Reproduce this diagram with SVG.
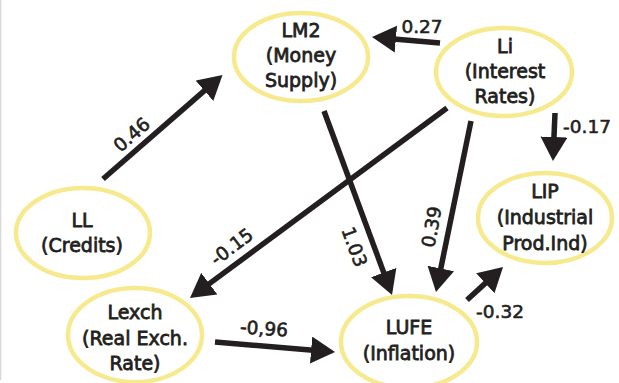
<svg xmlns="http://www.w3.org/2000/svg" width="619" height="383" viewBox="0 0 619 383">
<style>
.node ellipse{fill:#fff;stroke:#F7EA8E;stroke-width:4.5}
.node text{font-family:"DejaVu Sans",sans-serif;font-size:19px;fill:#231f20;stroke:#231f20;stroke-width:0.8;text-anchor:middle}
.conn line{stroke:#231f20;stroke-width:5.5}
.lbl{font-family:"DejaVu Sans",sans-serif;font-size:18.5px;fill:#231f20;stroke:#231f20;stroke-width:0.6;text-anchor:middle}
</style>
<defs>
<marker id="ah" markerUnits="userSpaceOnUse" markerWidth="26" markerHeight="28" refX="2" refY="13.5" orient="auto" viewBox="0 0 26 28">
<path d="M0,0 L24,13.5 L0,27 z" fill="#231f20"/>
</marker>
</defs>
<rect width="619" height="383" fill="#fff"/>
<line x1="0.5" y1="0" x2="0.5" y2="380" stroke="#d8d8d8" stroke-width="1.5"/>
<g id="LM2" class="node"><ellipse cx="301" cy="57" rx="67" ry="44"/><text x="301" y="37">LM2</text><text x="301" y="62">(Money</text><text x="301" y="87">Supply)</text></g>
<g id="Li" class="node"><ellipse cx="504" cy="72" rx="68" ry="44"/><text x="505" y="53">Li</text><text x="505" y="78">(Interest</text><text x="505" y="103">Rates)</text></g>
<g id="LL" class="node"><ellipse cx="83" cy="233" rx="67" ry="45"/><text x="82" y="227">LL</text><text x="82" y="252">(Credits)</text></g>
<g id="Lexch" class="node"><ellipse cx="135" cy="335" rx="67" ry="47"/><text x="135" y="319">Lexch</text><text x="135" y="345">(Real Exch.</text><text x="135" y="370">Rate)</text></g>
<g id="LUFE" class="node"><ellipse cx="409" cy="342" rx="68" ry="46"/><text x="409" y="334">LUFE</text><text x="409" y="360">(Inflation)</text></g>
<g id="LIP" class="node"><ellipse cx="545" cy="218" rx="67" ry="45"/><text x="545" y="198">LIP</text><text x="545" y="224">(Industrial</text><text x="545" y="250">Prod.Ind)</text></g>
<g id="connectors" class="conn">
<line x1="103" y1="179" x2="205.9" y2="89.4" marker-end="url(#ah)"/>
<line x1="440" y1="43" x2="393.9" y2="38.9" marker-end="url(#ah)"/>
<line x1="555" y1="113" x2="553.9" y2="139" marker-end="url(#ah)"/>
<line x1="447" y1="108" x2="207.7" y2="284.9" marker-end="url(#ah)"/>
<line x1="324" y1="111" x2="384.4" y2="274.4" marker-end="url(#ah)"/>
<line x1="471" y1="121" x2="440.4" y2="270.4" marker-end="url(#ah)"/>
<line x1="467" y1="300" x2="486.8" y2="281.9" marker-end="url(#ah)"/>
<line x1="215" y1="342" x2="313.1" y2="350.2" marker-end="url(#ah)"/>
</g>
<g id="labels">
<text class="lbl" transform="translate(132,135) rotate(-41)" x="0" y="6">0.46</text>
<text class="lbl" x="422" y="33">0.27</text>
<text class="lbl" x="587" y="133">-0.17</text>
<text class="lbl" transform="translate(232,247) rotate(-37)" x="0" y="6">-0.15</text>
<text class="lbl" transform="translate(354,247) rotate(70)" x="0" y="6">1.03</text>
<text class="lbl" transform="translate(432,227) rotate(-80)" x="0" y="6">0.39</text>
<text class="lbl" x="500" y="318">-0.32</text>
<text class="lbl" transform="translate(264,329) rotate(4)" x="0" y="6">-0,96</text>
</g>
</svg>
